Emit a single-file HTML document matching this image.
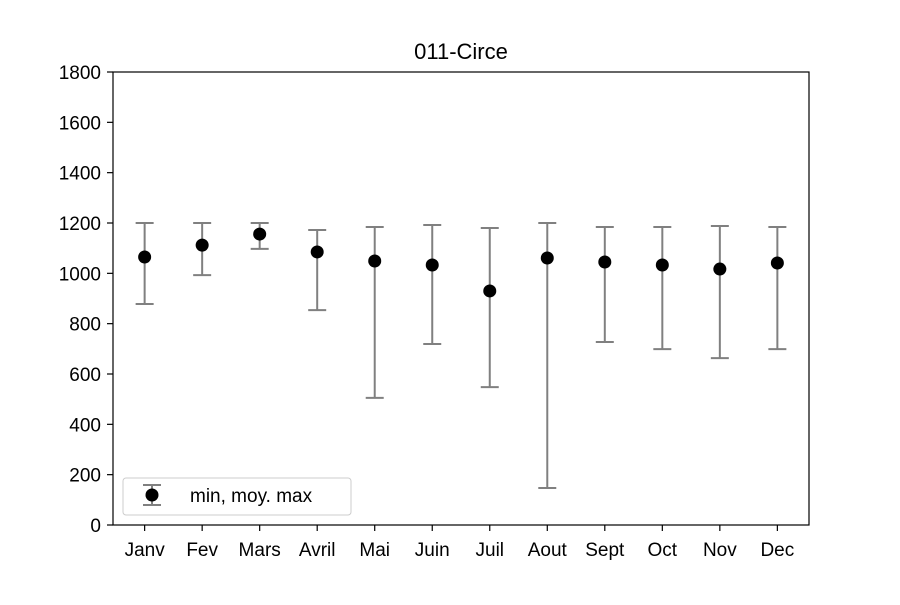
<!DOCTYPE html>
<html><head><meta charset="utf-8"><style>
body{margin:0;background:#fff;}
svg text{font-family:"Liberation Sans","DejaVu Sans",sans-serif;}
</style></head><body>
<svg id="chart" width="900" height="600" xmlns="http://www.w3.org/2000/svg">
<rect width="900" height="600" fill="#fff"/>
<text x="461" y="59" font-size="22" text-anchor="middle">011-Circe</text>
<g id="axes"></g>
<g id="marks"></g>
<rect x="113" y="72" width="696" height="453" fill="none" stroke="#000" stroke-width="1.2"/>
<g>
<rect x="123" y="478" width="228" height="37" rx="3" fill="#fff" stroke="#ccc"/>
<line x1="152" y1="485" x2="152" y2="505" stroke="#808080" stroke-width="2"/>
<line x1="143" y1="485" x2="161" y2="485" stroke="#808080" stroke-width="2"/>
<line x1="143" y1="505" x2="161" y2="505" stroke="#808080" stroke-width="2"/>
<circle cx="152" cy="495" r="6.5" fill="#000"/>
<text x="190" y="502" font-size="19">min, moy. max</text>
</g>
</svg>
<script>
const categories=["Janv","Fev","Mars","Avril","Mai","Juin","Juil","Aout","Sept","Oct","Nov","Dec"];
const meanValues=[1065,1112,1156,1085,1049,1033,930,1061,1045,1033,1017,1041];
const maxValues=[1200,1200,1200,1172,1184,1192,1180,1200,1184,1184,1188,1184];
const minValues=[878,993,1097,854,505,719,548,147,727,699,663,699];
const yTicks=[0,200,400,600,800,1000,1200,1400,1600,1800];

const NS="http://www.w3.org/2000/svg";
const L=113,R=809,T=72,B=525;
const xs=i=>L+(i+0.55)*(R-L)/12.1;
const ys=v=>B-(v/1800)*(B-T);
function mk(tag,attrs,parent){const e=document.createElementNS(NS,tag);for(const k in attrs)e.setAttribute(k,attrs[k]);parent.appendChild(e);return e;}
const axes=document.getElementById('axes'),marks=document.getElementById('marks');
yTicks.forEach(v=>{
  const y=ys(v);
  const t=mk('line',{x1:L-6,x2:L,y1:y,y2:y,stroke:'#000','stroke-width':1.2},axes);
  
  
  const tx=mk('text',{x:L-12,y:y+7,'font-size':19,'text-anchor':'end'},axes);
  tx.textContent=v;
  
  
});
categories.forEach((c,i)=>{
  const x=xs(i);
  const t=mk('line',{x1:x,x2:x,y1:B,y2:B+6,stroke:'#000','stroke-width':1.2},axes);
  
  
  const tx=mk('text',{x:x,y:B+31,'font-size':19,'text-anchor':'middle'},axes);
  tx.textContent=c;
  
  
  const g=mk('g',{},marks);
  
  
  const y1=ys(maxValues[i]),y0=ys(minValues[i]);
  mk('line',{x1:x,x2:x,y1:y1,y2:y0,stroke:'#808080','stroke-width':2},g);
  mk('line',{x1:x-9,x2:x+9,y1:y1,y2:y1,stroke:'#808080','stroke-width':2},g);
  mk('line',{x1:x-9,x2:x+9,y1:y0,y2:y0,stroke:'#808080','stroke-width':2},g);
  const p=mk('circle',{cx:x,cy:ys(meanValues[i]),r:6.5,fill:'#000'},g);
  
  
});
</script>
</body></html>
